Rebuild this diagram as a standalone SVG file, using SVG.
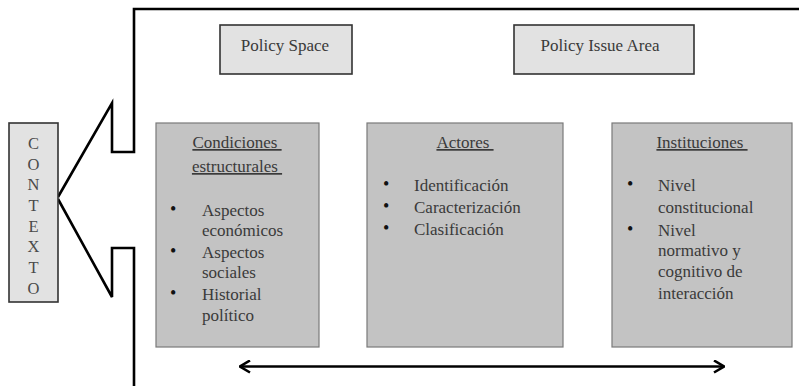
<svg xmlns="http://www.w3.org/2000/svg" width="799" height="386" viewBox="0 0 799 386">
<style>
text{font-family:"Liberation Serif","Times New Roman",serif;font-size:17px;fill:#3a3a3a}
.ctx{font-size:16.5px;text-anchor:middle;fill:#4a4a4a}
.ttl{text-anchor:middle;text-decoration:underline}
.light{fill:#e2e2e2;stroke:#333;stroke-width:1.6}
.big{fill:#c3c3c3;stroke:#7a7a7a;stroke-width:1.2}
.frame{fill:none;stroke:#000;stroke-width:2.6;stroke-linejoin:miter}
.bul{fill:#111;font-size:18px}
</style>
<defs>
<marker id="chev" viewBox="0 0 12 14" refX="11" refY="7" markerWidth="12" markerHeight="14" markerUnits="userSpaceOnUse" orient="auto-start-reverse">
<path d="M1,1 L11,7 L1,13" fill="none" stroke="#000" stroke-width="2.6"/>
</marker>
</defs>
<g id="connectors">
<polyline class="frame" points="799,9 134,9 134,152 112,152 112,103 58,197"/>
<polyline class="frame" points="58,199 112,297 112,248 134,248 134,386"/>
<line x1="240" y1="366.5" x2="724" y2="366.5" stroke="#000" stroke-width="2.6" marker-start="url(#chev)" marker-end="url(#chev)"/>
</g>
<g id="contexto">
<rect class="light" x="9" y="123" width="49" height="179"/>
<text class="ctx" x="33.5" y="149">C</text>
<text class="ctx" x="33.5" y="169.5">O</text>
<text class="ctx" x="33.5" y="190">N</text>
<text class="ctx" x="33.5" y="210.5">T</text>
<text class="ctx" x="33.5" y="231.5">E</text>
<text class="ctx" x="33.5" y="252">X</text>
<text class="ctx" x="33.5" y="272.5">T</text>
<text class="ctx" x="33.5" y="293.5">O</text>
</g>
<g id="policy-space">
<rect class="light" x="220" y="25" width="132" height="49"/>
<text x="285" y="51" text-anchor="middle">Policy Space</text>
</g>
<g id="policy-issue-area">
<rect class="light" x="514" y="25" width="180" height="49"/>
<text x="600" y="51" text-anchor="middle">Policy Issue Area</text>
</g>
<g id="condiciones">
<rect class="big" x="156" y="123" width="163" height="224"/>
<text class="ttl" x="237" y="148">Condiciones&#160;</text>
<text class="ttl" x="237" y="172">estructurales&#160;</text>
<text class="bul" x="170" y="215">•</text>
<text x="202" y="216">Aspectos</text>
<text x="202" y="236">económicos</text>
<text class="bul" x="170" y="257">•</text>
<text x="202" y="258">Aspectos</text>
<text x="202" y="278">sociales</text>
<text class="bul" x="170" y="299">•</text>
<text x="202" y="300">Historial</text>
<text x="202" y="321">político</text>
</g>
<g id="actores">
<rect class="big" x="367" y="123" width="196" height="224"/>
<text class="ttl" x="465" y="148">Actores&#160;</text>
<text class="bul" x="383" y="190">•</text>
<text x="414" y="191">Identificación</text>
<text class="bul" x="383" y="212">•</text>
<text x="414" y="213">Caracterización</text>
<text class="bul" x="383" y="234">•</text>
<text x="414" y="235">Clasificación</text>
</g>
<g id="instituciones">
<rect class="big" x="612" y="123" width="180" height="224"/>
<text class="ttl" x="702" y="148">Instituciones&#160;</text>
<text class="bul" x="627" y="190">•</text>
<text x="658" y="191">Nivel</text>
<text x="658" y="213">constitucional</text>
<text class="bul" x="627" y="235">•</text>
<text x="658" y="236">Nivel</text>
<text x="658" y="256">normativo y</text>
<text x="658" y="277">cognitivo de</text>
<text x="658" y="299">interacción</text>
</g>
</svg>
